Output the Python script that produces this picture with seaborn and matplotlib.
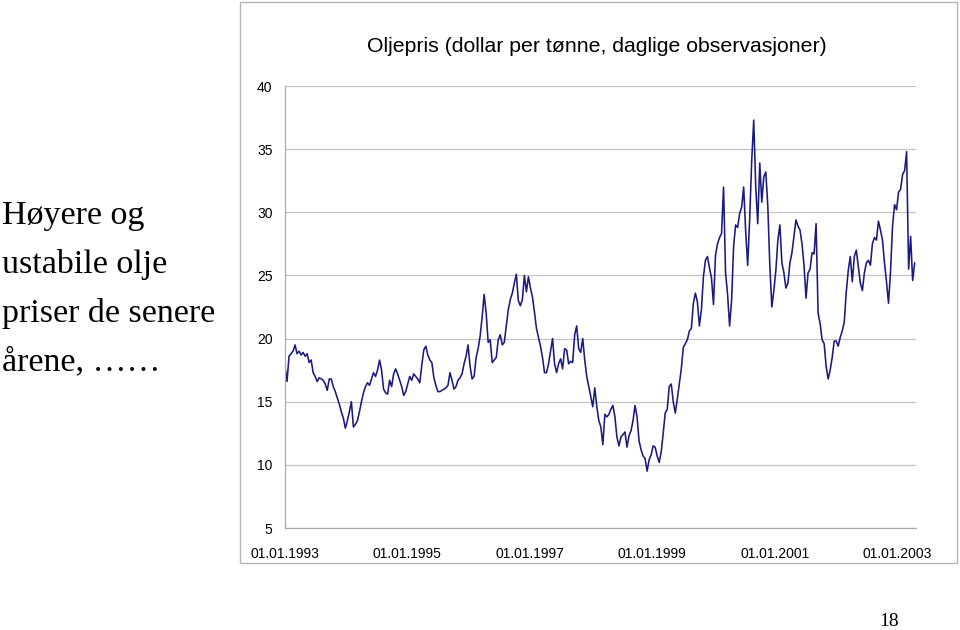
import numpy as np
import pandas as pd
import matplotlib
matplotlib.use("Agg")
import matplotlib.pyplot as plt
import matplotlib.dates as mdates
from matplotlib.patches import Rectangle
import seaborn as sns

# ---------------- data ----------------
title = "Oljepris (dollar per tønne, daglige observasjoner)"
side_lines = ["Høyere og", "ustabile olje", "priser de senere", "årene, ……"]
page_no = "18"

start_date = "1993-01-01"
step = "12D"
end_date = "2003-04-23"

price = [
    17.8, 16.6, 18.6, 18.8, 19.0, 19.5, 18.8, 19.0, 18.7, 18.9,
    18.6, 18.8, 18.1, 18.3, 17.3, 17.0, 16.6, 16.9, 16.8, 16.7,
    16.4, 15.9, 16.8, 16.8, 16.2, 15.8, 15.3, 14.8, 14.2, 13.7,
    12.9, 13.5, 14.2, 15.0, 13.0, 13.2, 13.5, 14.2, 15.0, 15.7,
    16.2, 16.5, 16.3, 16.8, 17.3, 17.0, 17.5, 18.3, 17.5, 16.0,
    15.7, 15.6, 16.7, 16.2, 17.2, 17.6, 17.2, 16.7, 16.2, 15.5,
    15.8, 16.4, 17.0, 16.7, 17.2, 17.0, 16.8, 16.5, 17.9, 19.1,
    19.4, 18.7, 18.3, 18.1, 16.9, 16.3, 15.8, 15.8, 15.9, 16.0,
    16.1, 16.3, 17.3, 16.7, 16.0, 16.2, 16.7, 16.9, 17.2, 18.0,
    18.6, 19.5, 17.8, 16.8, 17.0, 18.5, 19.2, 20.2, 21.7, 23.5,
    22.0, 19.7, 19.9, 18.1, 18.3, 18.5, 19.9, 20.3, 19.5, 19.7,
    21.0, 22.3, 23.1, 23.6, 24.4, 25.1, 23.0, 22.6, 23.1, 25.0,
    23.7, 24.9, 24.0, 23.3, 22.1, 20.8, 20.1, 19.4, 18.5, 17.3,
    17.3, 18.0, 19.0, 20.0, 18.0, 17.3, 18.0, 18.4, 17.6, 19.2,
    19.1, 18.0, 18.2, 18.1, 20.3, 21.0, 19.2, 18.9, 20.0, 18.3,
    17.0, 16.2, 15.4, 14.6, 16.1, 14.6, 13.5, 13.0, 11.6, 14.0,
    13.8, 14.0, 14.4, 14.7, 13.8, 12.2, 11.5, 12.2, 12.4, 12.6,
    11.4, 12.3, 12.7, 13.5, 14.7, 13.8, 11.9, 11.2, 10.7, 10.5,
    9.5, 10.4, 10.8, 11.5, 11.4, 10.7, 10.2, 11.0, 12.5, 14.1,
    14.4, 16.2, 16.4, 15.0, 14.1, 15.2, 16.4, 17.6, 19.3, 19.6,
    19.9, 20.6, 20.8, 22.8, 23.6, 22.9, 21.0, 22.3, 24.9, 26.2,
    26.5, 25.6, 24.8, 22.7, 26.6, 27.5, 28.0, 28.3, 32.0, 25.2,
    23.5, 21.0, 23.0, 27.3, 29.0, 28.8, 29.9, 30.4, 32.0, 28.5,
    25.8, 29.5, 34.1, 37.3, 32.0, 29.1, 33.9, 30.8, 32.8, 33.2,
    30.5, 25.8, 22.5, 23.8, 25.4, 27.8, 29.0, 26.0, 25.2, 24.0,
    24.4, 26.0, 26.8, 28.1, 29.4, 28.9, 28.6, 27.5, 25.8, 23.2,
    25.2, 25.5, 26.8, 26.7, 29.1, 22.0, 21.2, 19.9, 19.6, 17.8,
    16.8, 17.5, 18.5, 19.8, 19.8, 19.4, 20.1, 20.6, 21.3, 23.7,
    25.4, 26.5, 24.5, 26.5, 27.0, 25.7, 24.4, 23.8, 25.2, 26.0,
    26.2, 25.8, 27.5, 28.0, 27.8, 29.3, 28.6, 27.8, 26.0, 24.5,
    22.8, 25.3, 28.9, 30.6, 30.2, 31.6, 31.8, 33.0, 33.3, 34.8,
    25.5, 28.1, 24.6, 26.0,
]

y_ticks = [5, 10, 15, 20, 25, 30, 35, 40]
x_tick_dates = ["1993-01-01", "1995-01-01", "1997-01-01",
                "1999-01-01", "2001-01-01", "2003-01-01"]

# ---------------- plot ----------------
sns.set_theme(style="white")
plt.rcParams["font.family"] = ["Liberation Sans", "DejaVu Sans"]
plt.rcParams["text.color"] = "black"

dates = pd.date_range(start_date, periods=len(price), freq=step)
df = pd.DataFrame({"dato": dates, "pris": price})

fig = plt.figure(figsize=(9.6, 6.3), dpi=100)
ax = fig.add_axes([285 / 960, 1 - 528 / 630, (916 - 285) / 960, (528 - 86) / 630])

sns.lineplot(data=df, x="dato", y="pris", ax=ax, color="#1a1a80", linewidth=1.15)

ax.set_xlim(pd.Timestamp(start_date), pd.Timestamp(end_date))
ax.set_ylim(min(y_ticks), max(y_ticks))
ax.set_yticks(y_ticks)
ax.set_xticks(pd.to_datetime(x_tick_dates))
ax.xaxis.set_major_formatter(mdates.DateFormatter("%d.%m.%Y"))
ax.set_xlabel("")
ax.set_ylabel("")

ax.grid(axis="y", color="#c4c4c4", linewidth=0.9)
ax.grid(axis="x", visible=False)
ax.set_axisbelow(True)
for s in ["top", "right"]:
    ax.spines[s].set_visible(False)
for s in ["left", "bottom"]:
    ax.spines[s].set_color("#a8a8a8")
    ax.spines[s].set_linewidth(0.9)
ax.tick_params(axis="both", direction="out", length=4, width=0.8,
               color="#a8a8a8", labelsize=10, labelcolor="black")
ax.tick_params(axis="y", pad=5)
ax.tick_params(axis="x", length=5, pad=9)

# chart frame
fig.add_artist(Rectangle((240 / 960, 1 - 563 / 630), 717 / 960, 561 / 630,
                         transform=fig.transFigure, fill=False,
                         edgecolor="#b4b4b4", linewidth=1.0))

fig.text(597 / 960, 1 - 47 / 630, title, ha="center", va="center",
         fontsize=15.3, color="black")

baselines = [224, 273, 322, 370]
for line, yb in zip(side_lines, baselines):
    fig.text(0.002, 1 - yb / 630, line, ha="left", va="baseline", color="black",
             fontsize=24.5, family=["Liberation Serif", "DejaVu Serif"])

fig.text(889 / 960, 1 - 621 / 630, page_no, ha="center", va="center",
         fontsize=14, color="black", family=["Liberation Serif", "DejaVu Serif"])

fig.savefig("out.png", dpi=100)
